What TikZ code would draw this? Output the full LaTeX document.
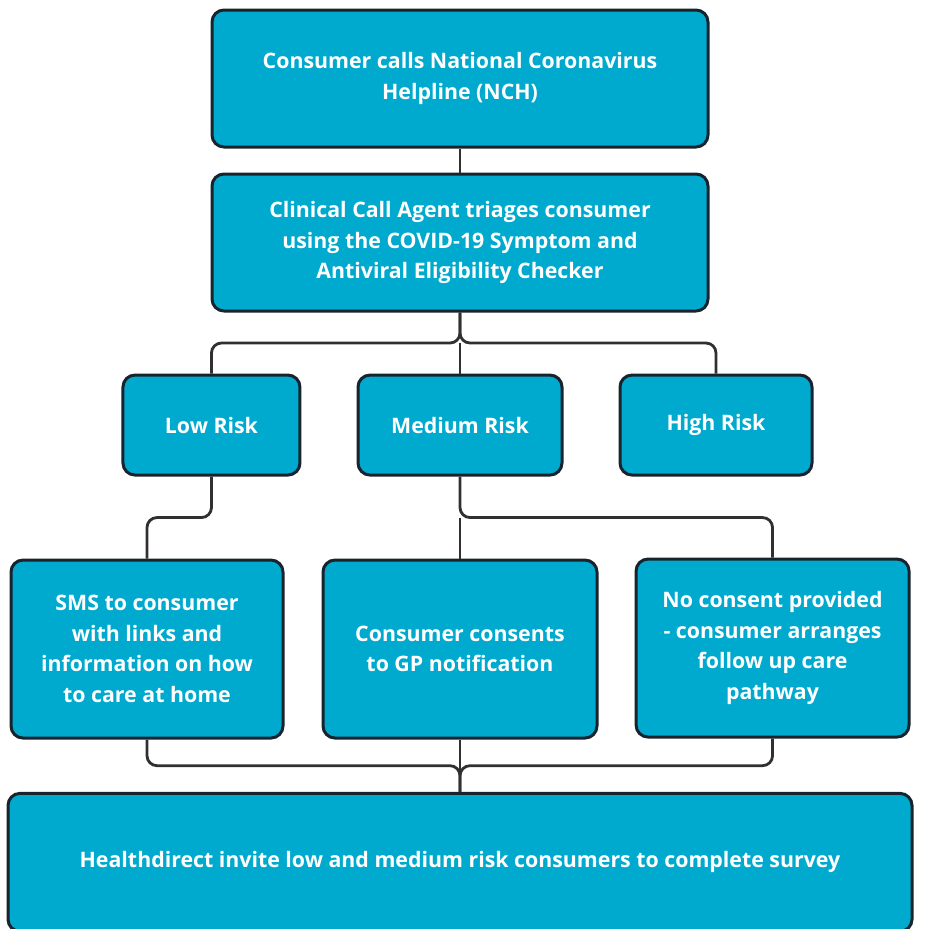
\documentclass[tikz,border=0pt]{standalone}
\usepackage{fontspec}
\setmainfont{Open Sans}
\usetikzlibrary{positioning}
\usetikzlibrary{calc}
\definecolor{nchblue}{RGB}{0,169,206}
\definecolor{nchedge}{RGB}{23,36,45}
\definecolor{nchline}{RGB}{48,48,48}
\tikzset{
    box/.style = {rectangle, rounded corners=9pt, draw=nchedge, line width=2.25pt,
        fill=nchblue, text=white, align=center,
        font=\bfseries\fontsize{16}{23}\selectfont},
    stage/.style = {box, minimum width=372pt, minimum height=102.75pt},
    risk/.style = {box, minimum height=75pt},
    outcome/.style = {box, minimum height=133.5pt}}

\begin{document}
\begin{tikzpicture}[x=0.75pt, y=-0.75pt, node distance=123pt and 186pt, on grid,
    link/.style = {draw=nchline, line width=2.1pt, rounded corners=7.5pt}
    ]
    \useasboundingbox (0,0) rectangle (928,929);
    \node[stage] (call) at (460,78.5) {Consumer calls National Coronavirus\\Helpline (NCH)};
    \node[stage] (triage) [below = of call] {Clinical Call Agent triages consumer\\using the COVID-19 Symptom and\\Antiviral Eligibility Checker};
    \node[risk, minimum width=153pt] (medium) [below = 136.9pt of triage] {Medium Risk};
    \node[risk, minimum width=132.75pt] (low) [left = 186.4pt of medium] {Low Risk};
    \node[risk, minimum width=144pt] (high) [right = 192pt of medium] {High Risk};
    \node[outcome, minimum width=205.5pt] (consent) [below = 168pt of medium] {Consumer consents\\to GP notification};
    \node[outcome, minimum width=204pt] (sms) [left = 234.75pt of consent] {SMS to consumer\\with links and\\information on how\\to care at home};
    \node[outcome, minimum width=204.75pt] (nocons) [right = 234.4pt of consent, yshift=0.75pt] {No consent provided\\- consumer arranges\\follow up care\\pathway};
    \node[box, minimum width=678pt, minimum height=103.5pt] (survey) [below = 160pt of consent] {Healthdirect invite low and medium risk consumers to complete survey};
    \coordinate (fork) at ($(triage.south)!0.5!(medium.north)$);
    \coordinate (lowfork) at ($(low.south)!0.5!(sms.north)$);
    \coordinate (medfork) at ($(medium.south)!0.5!(consent.north)$);
    \coordinate (merge) at ($(consent.south)!0.5!(survey.north)$);
    \draw[link] (call) -- (triage);
    \draw[link] (triage.south) -- (fork) -| (low.north);
    \draw[link] (triage.south) -- (fork) -| (high.north);
    \draw[link] (fork) -- (medium.north);
    \draw[link] (low.south) |- (lowfork) -| (sms.north);
    \draw[link] (medium.south) -- (medfork) -| (nocons.north);
    \draw[link] (medfork) -- (consent.north);
    \draw[link] (sms.south) |- (merge) -- (survey.north);
    \draw[link] (nocons.south) |- (merge) -- (survey.north);
    \draw[link] (consent) -- (survey);
\end{tikzpicture}
\end{document}
